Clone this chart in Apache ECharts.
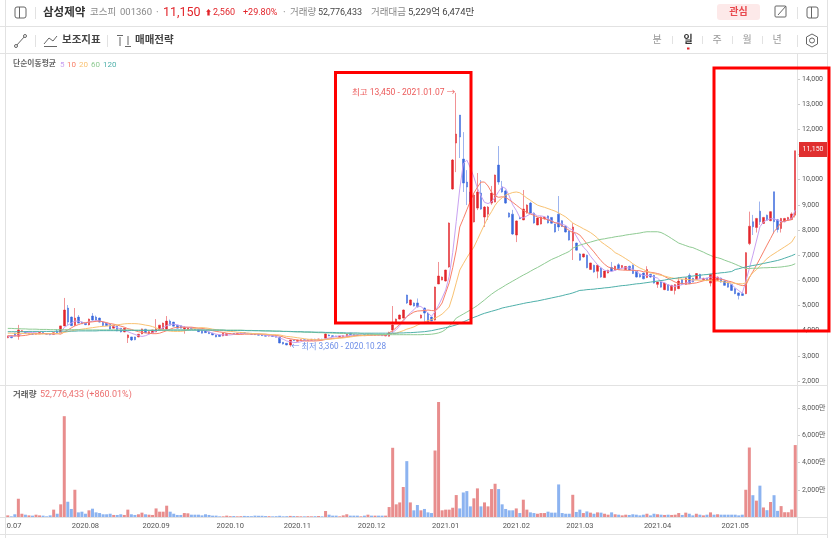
<!DOCTYPE html>
<html>
<head>
<meta charset="utf-8">
<title>삼성제약</title>
<script src="https://cdn.jsdelivr.net/npm/echarts@6/dist/echarts.min.js"></script>
<style>
  html, body { margin: 0; padding: 0; background: #fff; }
  #chart { width: 831px; height: 538px; }
</style>
</head>
<body>
<div id="chart"></div>
<script>
// 거래일 수 (월별)
const months = ['2020.07', '2020.08', '2020.09', '2020.10', '2020.11', '2020.12', '2021.01', '2021.02', '2021.03', '2021.04', '2021.05']
const monthDays = [22, 20, 21, 19, 21, 21, 20, 18, 22, 22, 18]

const priceTicks = { min: 2000, max: 14000, step: 1000 }
const volumeTicks = { min: 0, max: 8000, step: 2000 }

// open, close, low, high
const candles = [
  [3720,3790,3700,3800],[3790,3720,3700,3810],[3910,3790,3780,3920],[3780,4030,3640,4230],[3960,4000,3950,4020],
  [3960,3900,3880,3970],[3870,3890,3860,3900],[3880,3860,3840,3900],[3860,3900,3850,3910],[3880,3930,3870,3950],
  [3930,3880,3860,3940],[3880,3860,3850,3900],[3860,3840,3820,3880],[3850,3920,3840,3930],[3980,3920,3900,4060],
  [3920,4190,3900,4200],[4190,4820,4180,5300],[4900,4340,4230,5020],[4540,4200,4180,4560],[4220,4500,4180,4900],
  [4540,4300,4290,4620],[4340,4270,4260,4360],[4290,4240,4220,4310],[4230,4460,4210,4480],[4580,4420,4400,4700],
  [4540,4420,4400,4600],[4500,4340,4320,4520],[4340,4210,4190,4360],[4300,4200,4190,4310],[4260,4060,4050,4270],
  [4100,4220,4090,4230],[4180,3990,3980,4200],[4100,3950,3930,4110],[3950,4100,3940,4110],[3720,3830,3510,3850],
  [3750,3630,3590,3760],[3750,3640,3620,3760],[3750,3860,3740,3870],[3870,4070,3860,4080],[4060,3920,3900,4070],
  [3880,3960,3870,3980],[3910,4030,3900,4040],[3950,4070,3940,4460],[4020,4220,4010,4230],[4060,4300,4050,4320],
  [4060,4380,4050,4580],[4380,4220,4200,4440],[4340,4180,4170,4350],[4220,4100,4090,4230],[4200,4100,4090,4210],
  [4070,4130,3880,4180],[4040,4110,4030,4120],[4110,4050,4040,4130],[4100,4040,4030,4110],[4060,3960,3950,4070],
  [4020,3900,3890,4030],[4000,3920,3910,4010],[3950,3880,3870,3960],[3900,3830,3820,3910],[3830,3750,3740,3840],
  [3830,3770,3760,3840],[3790,3900,3780,3910],[3810,3880,3800,3890],[3880,3890,3860,3900],[3890,3860,3850,3900],
  [3860,3900,3850,3910],[3880,3920,3870,3930],[3920,3900,3880,3930],[3900,3880,3860,3910],[3880,3860,3850,3890],
  [3870,3840,3830,3880],[3850,3820,3810,3870],[3830,3800,3790,3850],[3810,3780,3770,3830],[3790,3800,3770,3810],
  [3800,3770,3760,3820],[3790,3740,3730,3800],[3750,3510,3500,3760],[3540,3470,3450,3550],[3500,3430,3420,3510],
  [3430,3630,3360,3640],[3620,3600,3590,3640],[3580,3620,3570,3640],[3600,3640,3590,3650],[3640,3610,3600,3660],
  [3600,3640,3590,3650],[3620,3660,3610,3670],[3660,3620,3610,3680],[3630,3670,3620,3680],[3660,3630,3620,3680],
  [3700,3870,3690,3890],[3830,3790,3780,3850],[3800,3770,3760,3820],[3790,3760,3750,3800],[3750,3780,3740,3790],
  [3760,3800,3750,3810],[3780,3860,3770,3880],[3900,3840,3830,3920],[3860,3820,3810,3870],[3840,3800,3790,3860],
  [3800,3830,3790,3840],[3850,3810,3800,3860],[3810,3860,3800,3870],[3860,3820,3810,3880],[3810,3850,3800,3860],
  [3860,3820,3810,3870],[3840,3800,3790,3850],[3790,3830,3780,3840],[3780,3920,3770,3960],[4030,4230,3920,4980],
  [4300,4460,4280,4480],[4460,4620,4440,4640],[4500,4820,4480,4840],[5415,5100,5060,5430],[5020,5220,5000,5240],
  [5100,4980,4960,5120],[5100,4940,4920,5280],[4500,4620,4480,4640],[4900,4700,4300,4920],[4700,4340,4320,4720],
  [4540,4380,4370,4560],[4420,5735,4400,5750],[5854,6172,5850,6730],[6010,6130,6000,6150],[5973,6410,5950,6420],
  [6530,8277,6500,8300],[9630,10780,9600,10820],[11455,11813,10300,13450],[12568,11694,10860,12568],[10820,9866,9510,11890],
  [9906,9707,8990,10380],[9510,9110,8910,9866],[8320,9390,8300,9420],[8870,9510,8790,10264],[9470,8830,8800,9985],
  [8515,8910,8120,8950],[8630,8910,8400,8950],[9070,9470,9000,9750],[9110,10185,9100,10200],[10580,9906,9800,11336],
  [9700,9510,9480,9950],[9550,9070,9040,9600],[8675,8515,8490,8700],[8630,7840,7800,8800],[7800,8360,7520,8380],
  [8500,8450,8430,8520],[8400,8833,8390,9590],[8675,8990,8650,9020],[9070,8675,8650,9120],[8675,8277,8250,8700],
  [8200,8475,8190,8500],[8237,8515,8220,8540],[8440,8510,8420,8530],[8560,8280,8260,8580],[8500,8270,8250,8510],
  [8237,7920,7900,8250],[8630,8120,7960,9350],[8370,8140,8120,8390],[8150,7920,7900,8170],[7960,7600,7580,7980],
  [7560,8120,6807,8270],[7480,7200,7180,7500],[7050,6800,6780,7080],[6930,7050,6900,7060],[7000,6500,6480,7020],
  [6430,6690,6420,6700],[6600,6330,6300,6620],[6360,6600,6080,6620],[6490,6130,6100,6500],[6110,6370,6100,6380],
  [6290,6400,6280,6420],[6510,6370,6340,6730],[6400,6560,6390,6580],[6620,6430,6410,6680],[6510,6590,6490,6600],
  [6430,6550,6410,6560],[6560,6410,6390,6580],[6600,6270,6250,6630],[6360,6130,6110,6380],[6230,6130,6110,6250],
  [6290,6060,6040,6310],[6110,6430,6090,6560],[6240,6130,6100,6260],[6200,5890,5870,6220],[5840,5930,5700,5950],
  [5930,5730,5710,5950],[5630,5890,5610,5900],[5830,5600,5580,5850],[5600,5800,5580,5820],[5600,5830,5440,5850],
  [5670,5970,5650,6130],[6030,5840,5820,6050],[5840,6100,5820,6120],[6200,5870,5850,6280],[6080,5940,5920,6100],
  [6030,6270,6010,6290],[6240,6070,6050,6260],[6000,6080,5980,6100],[6080,5990,5970,6100],[5890,6240,5760,6260],
  [6080,6000,5980,6100],[6000,6130,5980,6150],[6090,5930,5910,6110],[5970,5800,5780,5990],[5930,5730,5710,5950],
  [5830,5600,5580,5850],[5670,5470,5450,5690],[5500,5400,5240,5520],[5470,5400,5380,5490],[5470,7100,5450,7120],
  [7460,8150,7400,8730],[8330,8130,7800,8600],[8100,8460,7900,8480],[8750,8330,8200,9130],[8260,8500,8240,8520],
  [8590,8390,8370,8610],[8370,8730,8350,8750],[9520,8330,7860,9520],[8410,8020,7900,8440],[8060,8460,7900,8480],
  [8330,8460,8310,8480],[8390,8500,8370,8520],[8420,8640,8400,8700],[8590,11150,8500,11150]
]

// 거래량 (만)
const volumes = [
  120,50,200,1340,240,170,120,100,170,120,
  100,50,120,540,240,930,7400,1120,590,2000,
  340,390,240,490,610,340,290,200,200,240,
  150,150,200,150,540,200,150,200,320,200,
  170,150,630,390,390,830,390,240,150,150,
  290,270,170,170,170,120,200,150,100,100,
  50,50,100,60,70,50,60,80,70,60,
  100,90,90,70,60,50,60,90,50,60,
  80,70,60,50,50,60,50,60,70,50,
  440,170,100,100,50,120,200,100,100,100,
  50,100,170,100,100,100,100,100,730,5080,
  930,1070,2200,4100,1070,490,880,490,590,340,
  290,4880,8440,490,540,540,680,1610,630,1800,
  1900,780,1370,2100,780,1070,780,2050,2440,2050,
  930,590,490,490,630,290,1270,540,340,290,
  240,290,290,390,320,320,2390,290,240,240,
  1630,370,540,290,410,320,240,340,320,240,
  170,340,200,170,120,170,150,200,170,120,
  170,240,120,240,200,170,150,170,150,170,
  290,150,320,240,120,240,170,120,170,340,
  170,200,170,170,170,170,170,120,170,2000,
  5100,1600,1200,2300,700,500,1100,1600,450,800,
  350,350,550,5280
]

const ma5 = [
  3760,3770,3790,3820,3880,3920,3930,3930,3910,3890,
  3890,3880,3870,3870,3880,3930,4130,4220,4300,4380,
  4380,4340,4300,4350,4370,4400,4390,4350,4300,4220,
  4180,4120,4060,4010,3960,3900,3850,3800,3770,3800,
  3860,3920,3990,4050,4120,4200,4250,4260,4230,4190,
  4150,4130,4100,4080,4060,4030,4000,3950,3900,3860,
  3840,3830,3830,3830,3850,3870,3890,3890,3890,3890,
  3880,3860,3840,3820,3800,3790,3770,3710,3660,3590,
  3560,3530,3530,3560,3610,3620,3630,3630,3640,3640,
  3680,3710,3740,3770,3800,3780,3790,3810,3830,3840,
  3830,3820,3820,3830,3830,3830,3830,3830,3840,3930,
  4040,4200,4370,4560,4710,4830,4980,4960,4840,4700,
  4570,4760,5010,5300,5620,6160,7100,8340,9640,10640,
  10780,10470,10100,9660,9360,9100,9050,9120,9300,9530,
  9720,9650,9350,9000,8780,8500,8480,8560,8640,8650,
  8560,8560,8530,8440,8380,8280,8300,8230,8180,8060,
  8000,7760,7520,7320,7180,6960,6790,6620,6500,6400,
  6370,6350,6400,6450,6480,6500,6490,6430,6350,6260,
  6190,6200,6190,6130,6090,5950,5900,5820,5780,5760,
  5800,5830,5890,5930,5990,6040,6060,6060,6090,6130,
  6120,6110,6060,6020,5930,5840,5700,5590,5490,5960,
  6470,7000,7560,8130,8320,8400,8450,8440,8390,8330,
  8330,8400,8460,8800
]

const ma10 = [
  3800,3800,3790,3790,3800,3810,3840,3870,3880,3870,
  3890,3880,3880,3880,3880,3860,3950,4030,4110,4190,
  4240,4290,4320,4340,4350,4370,4380,4350,4320,4280,
  4260,4220,4180,4140,4080,4050,4000,3960,3930,3910,
  3900,3880,3880,3900,3950,4000,4060,4110,4130,4140,
  4130,4140,4140,4120,4100,4090,4070,4040,4000,3970,
  3950,3930,3900,3880,3870,3850,3850,3860,3860,3860,
  3860,3870,3860,3860,3840,3830,3810,3790,3750,3700,
  3680,3650,3630,3610,3590,3590,3590,3590,3600,3620,
  3650,3670,3690,3700,3720,3730,3750,3770,3790,3810,
  3810,3800,3810,3820,3830,3830,3830,3820,3920,4000,
  4120,4260,4420,4560,4650,4740,4780,4790,4800,4820,
  4800,4790,4900,5100,5500,5900,6500,7200,8120,8450,
  8800,9150,9470,9700,9906,9906,9750,9500,9350,9300,
  9320,9300,9200,9100,8990,8880,8780,8700,8640,8580,
  8515,8480,8450,8400,8350,8290,8250,8170,8080,7980,
  7900,7880,7800,7630,7450,7290,7130,6950,6780,6640,
  6530,6490,6450,6420,6410,6400,6400,6400,6390,6380,
  6340,6340,6320,6300,6270,6230,6150,6080,6000,5930,
  5880,5880,5850,5860,5880,5900,5940,5980,6010,6020,
  6040,6050,6040,6010,5970,5940,5880,5830,5790,5800,
  6100,6350,6600,6860,7130,7400,7660,7930,8100,8300,
  8370,8380,8410,8650
]

const ma20 = [
  3900,3900,3890,3890,3890,3880,3880,3880,3870,3870,
  3870,3870,3880,3880,3880,3900,3930,3960,3990,4020,
  4040,4060,4080,4100,4120,4140,4160,4170,4180,4200,
  4220,4230,4250,4270,4280,4280,4280,4270,4250,4220,
  4200,4160,4110,4060,4030,4000,3980,3970,3970,3970,
  3990,4030,4060,4090,4110,4120,4110,4090,4060,4040,
  4020,4000,3980,3970,3960,3940,3930,3920,3900,3890,
  3880,3880,3870,3860,3850,3840,3840,3830,3800,3770,
  3760,3740,3720,3700,3680,3660,3650,3640,3640,3640,
  3650,3660,3670,3690,3700,3710,3730,3750,3770,3790,
  3800,3810,3820,3830,3830,3830,3840,3850,3860,3880,
  3900,3950,4000,4060,4100,4150,4220,4290,4340,4400,
  4440,4500,4570,4660,4790,4940,5380,5900,6410,6660,
  6900,7120,7320,7620,7920,8220,8510,8730,8980,9160,
  9280,9390,9440,9490,9510,9480,9380,9270,9180,9080,
  8990,8940,8900,8850,8800,8750,8680,8600,8520,8400,
  8280,8200,8130,8050,7980,7900,7800,7680,7530,7430,
  7330,7230,7100,7030,6950,6860,6770,6660,6570,6490,
  6430,6360,6300,6270,6230,6200,6170,6130,6100,6070,
  6060,6050,6040,6030,6020,6010,6000,6000,6000,5990,
  5980,5970,5960,5930,5910,5900,5880,5870,5860,5900,
  6130,6310,6420,6570,6720,6860,6970,7060,7150,7240,
  7330,7420,7520,7750
]

const ma60 = [
  4090,4090,4080,4080,4070,4070,4060,4060,4060,4050,
  4050,4050,4040,4040,4040,4040,4040,4040,4040,4040,
  4040,4030,4030,4030,4030,4030,4030,4030,4030,4030,
  4030,4030,4030,4030,4030,4020,4020,4020,4020,4020,
  4020,4020,4020,4020,4020,4020,4030,4030,4030,4030,
  4030,4030,4030,4030,4030,4030,4030,4030,4030,4030,
  4030,4030,4020,4020,4020,4020,4020,4010,4010,4010,
  4000,4000,4000,3990,3990,3990,3980,3980,3970,3970,
  3960,3960,3950,3950,3940,3940,3930,3930,3920,3920,
  3910,3910,3900,3900,3890,3890,3880,3880,3870,3870,
  3870,3860,3860,3860,3850,3850,3850,3850,3840,3840,
  3840,3840,3840,3840,3840,3840,3840,3840,3850,3850,
  3860,3880,3910,3960,4050,4180,4320,4500,4580,4660,
  4740,4820,4910,5000,5110,5220,5340,5450,5550,5640,
  5720,5810,5890,5970,6050,6130,6210,6280,6360,6440,
  6510,6590,6670,6750,6830,6890,6950,7020,7080,7150,
  7280,7340,7400,7440,7480,7520,7560,7600,7630,7650,
  7680,7700,7730,7750,7770,7800,7820,7840,7860,7880,
  7910,7930,7930,7930,7930,7900,7830,7750,7660,7570,
  7480,7430,7380,7330,7300,7240,7180,7120,7050,6990,
  6930,6900,6860,6800,6750,6700,6640,6580,6520,6470,
  6470,6480,6480,6490,6500,6500,6510,6510,6520,6530,
  6550,6570,6600,6660
]

const ma120 = [
  3960,3960,3960,3960,3960,3960,3970,3970,3970,3970,
  3970,3970,3970,3970,3980,3980,3980,3980,3980,3980,
  3990,3990,3990,3990,3990,3990,4000,4000,4000,4000,
  4000,4000,4000,4000,4010,4010,4010,4010,4010,4010,
  4010,4010,4010,4020,4020,4020,4020,4020,4020,4020,
  4020,4020,4020,4020,4020,4020,4020,4020,4020,4020,
  4020,4020,4010,4010,4010,4010,4010,4010,4000,4000,
  4000,4000,3990,3990,3990,3980,3980,3980,3970,3970,
  3970,3960,3960,3960,3950,3950,3950,3940,3940,3940,
  3930,3930,3930,3920,3920,3920,3910,3910,3910,3910,
  3900,3900,3900,3900,3900,3900,3900,3900,3900,3900,
  3900,3910,3910,3920,3920,3930,3940,3950,3960,3980,
  4000,4030,4060,4090,4120,4150,4190,4230,4290,4350,
  4410,4470,4530,4580,4640,4690,4730,4770,4810,4850,
  4900,4930,4960,4990,5020,5050,5080,5110,5130,5160,
  5180,5210,5240,5270,5300,5330,5360,5390,5430,5460,
  5500,5550,5600,5610,5630,5640,5650,5670,5680,5700,
  5710,5730,5750,5770,5790,5800,5820,5840,5860,5870,
  5890,5910,5930,5950,5970,5990,6010,6040,6060,6080,
  6100,6120,6130,6150,6170,6190,6200,6220,6230,6250,
  6270,6280,6300,6310,6330,6350,6430,6460,6500,6530,
  6560,6590,6610,6640,6670,6700,6730,6760,6790,6830,
  6880,6930,6980,7040
]

const maNames = ['5', '10', '20', '60', '120']
const maColors = ['#c9a2f2', '#f8806a', '#f9c272', '#8fcb93', '#4fb0aa']

const FONT = 'Roboto, "Noto Sans CJK KR", sans-serif'
const RED = '#e2252b'
const BLUE = '#3a69dc'

// 날짜축 만들기
const categories = []
const monthStarts = []
months.forEach((m, k) => {
  monthStarts.push(categories.length)
  for (let d = 1; d <= monthDays[k]; d++) categories.push(m + '.' + d)
})

const chart = echarts.init(document.getElementById('chart'))

// 화면 글자
const text = (s, x, y, size, color, weight, align) => ({
  type: 'text',
  z: 20,
  style: { text: s, x, y, fill: color, font: (weight || 'normal') + ' ' + size + 'px ' + FONT, align: align || 'left', verticalAlign: 'middle' }
})
const line = (x1, y1, x2, y2, color, width) => ({
  type: 'line',
  z: 10,
  shape: { x1, y1, x2, y2 },
  style: { stroke: color || '#e2e2e2', lineWidth: width || 1 }
})
const box = (x, y, width, height, stroke, lineWidth, r) => ({
  type: 'rect',
  z: 10,
  shape: { x, y, width, height, r: r || 0 },
  style: { stroke, lineWidth: lineWidth || 1, fill: 'none' }
})
const panelIcon = (x, y) => [box(x, y, 11, 11, '#666', 1, 2), line(x + 4.5, y, x + 4.5, y + 11, '#666')]

const graphicItems = [
  // 왼쪽으로 넘친 날짜 가리기
  { type: 'rect', z: 9, shape: { x: 0, y: 518, width: 6.5, height: 16 }, style: { fill: '#fff' } },
  // 테두리
  line(5.5, 0, 5.5, 538), line(827.5, 0, 827.5, 538),
  line(0, 26.5, 828, 26.5), line(0, 53.5, 828, 53.5),
  line(0, 385.5, 828, 385.5), line(0, 517.5, 828, 517.5), line(0, 534.5, 828, 534.5),
  line(797.5, 54, 797.5, 535),
  // 1행
  ...panelIcon(15, 7), line(35.5, 7, 35.5, 19),
  text('삼성제약', 43, 13, 11.5, '#333', 'bold'),
  text('코스피', 90, 13, 9.5, '#888'),
  text('001360', 120, 13, 9.5, '#888'),
  text('·', 156, 13, 10, '#888'),
  text('11,150', 163, 12.5, 12.5, RED, 'normal'),
  text('⬆', 205, 13, 7, RED),
  text('2,560', 213, 13, 9, RED),
  text('+29.80%', 243, 13, 9, RED),
  text('·', 283, 13, 10, '#888'),
  text('거래량', 290, 13, 9.5, '#888'),
  text('52,776,433', 318, 13, 9, '#444'),
  text('거래대금', 371, 13, 9.5, '#888'),
  text('5,229억 6,474만', 408, 13, 9.5, '#444'),
  { type: 'rect', z: 10, shape: { x: 717, y: 4, width: 43, height: 16, r: 3 }, style: { fill: '#fde9e9' } },
  text('관심', 738.5, 12.5, 10, '#e8474c', 'bold', 'center'),
  box(775, 6, 11, 11, '#666', 1, 1), line(778, 15, 786, 6, '#666'),
  line(797.5, 7, 797.5, 19),
  ...panelIcon(807, 7),
  // 2행
  line(16, 46, 25, 36, '#666'),
  { type: 'circle', z: 10, shape: { cx: 16, cy: 46, r: 1.5 }, style: { stroke: '#666', fill: '#fff' } },
  { type: 'circle', z: 10, shape: { cx: 25, cy: 36, r: 1.5 }, style: { stroke: '#666', fill: '#fff' } },
  line(35.5, 35, 35.5, 47),
  { type: 'polyline', z: 10, shape: { points: [[44, 44], [49, 38], [53, 41], [57, 36]] }, style: { stroke: '#666', fill: 'none' } },
  line(44, 46.5, 57, 46.5, '#666'),
  text('보조지표', 62, 40.5, 10.5, '#444', 'bold'),
  line(107.5, 35, 107.5, 47),
  line(117, 35.5, 123, 35.5, '#666'), line(120, 37, 120, 46, '#666'),
  line(125, 46.5, 131, 46.5, '#666'), line(128, 36, 128, 45, '#666'),
  text('매매전략', 135, 40.5, 10.5, '#444', 'bold'),
  text('분', 657, 40.5, 10, '#999', 'normal', 'center'), line(672.5, 36, 672.5, 44),
  text('일', 688, 40.5, 10, '#333', 'bold', 'center'), line(702.5, 36, 702.5, 44),
  text('주', 717, 40.5, 10, '#999', 'normal', 'center'), line(732.5, 36, 732.5, 44),
  text('월', 747, 40.5, 10, '#999', 'normal', 'center'), line(762.5, 36, 762.5, 44),
  text('년', 777, 40.5, 10, '#999', 'normal', 'center'), line(797.5, 35, 797.5, 47),
  { type: 'rect', z: 10, shape: { x: 687, y: 47.5, width: 2.5, height: 2 }, style: { fill: RED } },
  { type: 'polygon', z: 10, shape: { points: [[812, 34], [817.5, 37], [817.5, 44], [812, 47], [806.5, 44], [806.5, 37]] }, style: { stroke: '#666', fill: 'none' } },
  { type: 'circle', z: 10, shape: { cx: 812, cy: 40.5, r: 2.5 }, style: { stroke: '#666', fill: 'none' } },
  // 범례
  text('단순이동평균', 13, 64.5, 7.8, '#666', 'bold'),
  text(maNames[0], 60, 64.5, 8, maColors[0]),
  text(maNames[1], 67, 64.5, 8, maColors[1]),
  text(maNames[2], 79, 64.5, 8, maColors[2]),
  text(maNames[3], 91, 64.5, 8, maColors[3]),
  text(maNames[4], 103, 64.5, 8, maColors[4]),
  text('거래량', 13, 395, 8.5, '#666', 'bold'),
  text('52,776,433 (+860.01%)', 40, 395, 9, '#ec7070'),
  // 현재가
  { type: 'rect', z: 30, shape: { x: 799, y: 142, width: 28, height: 15 }, style: { fill: '#e02f2f' } },
  { ...text('11,150', 813, 149.5, 7, '#fff', 'normal', 'center'), z: 31 },
  // 빨간 박스
  { ...box(335.5, 72.5, 135.5, 250.5, '#ff0000', 3), z: 40 },
  { ...box(714, 68, 115, 263, '#ff0000', 3), z: 40 }
]

const maSeries = [ma5, ma10, ma20, ma60, ma120].map((d, i) => ({
  name: maNames[i],
  type: 'line',
  data: d,
  xAxisIndex: 0,
  yAxisIndex: 0,
  showSymbol: false,
  silent: true,
  z: 5,
  lineStyle: { width: 1, color: maColors[i] }
}))

chart.setOption({
  animation: false,
  backgroundColor: '#fff',
  textStyle: { fontFamily: FONT },
  graphic: graphicItems,
  grid: [
    { left: 6, top: 79, width: 791, height: 302, outerBoundsMode: 'none' },
    { left: 6, top: 408, width: 791, height: 109, outerBoundsMode: 'none' }
  ],
  xAxis: [
    {
      type: 'category', gridIndex: 0, data: categories, boundaryGap: true,
      axisLine: { show: false }, axisTick: { show: false }, axisLabel: { show: false }, splitLine: { show: false }
    },
    {
      type: 'category', gridIndex: 1, data: categories, boundaryGap: true,
      axisLine: { show: false },
      axisTick: { length: 3, alignWithLabel: true, interval: (i) => monthStarts.includes(i), lineStyle: { color: '#bbb' } },
      axisLabel: {
        interval: (i) => monthStarts.includes(i),
        formatter: (v) => v.slice(0, 7),
        fontSize: 7.5, color: '#555', margin: 5
      },
      splitLine: { show: false }
    }
  ],
  yAxis: [
    {
      type: 'value', gridIndex: 0, position: 'right', ...priceTicks, interval: priceTicks.step,
      axisLine: { show: false },
      axisTick: { show: true, length: 3, lineStyle: { color: '#ccc' } },
      axisLabel: {
        fontSize: 7, color: '#555', margin: 5,
        formatter: (v) => v.toLocaleString('en-US')
      },
      splitLine: { show: false }
    },
    {
      type: 'value', gridIndex: 1, position: 'right', ...volumeTicks, interval: volumeTicks.step,
      axisLine: { show: false },
      axisTick: { show: true, length: 3, lineStyle: { color: '#ccc' } },
      axisLabel: {
        fontSize: 7, color: '#555', margin: 5,
        formatter: (v) => (v === 0 ? '' : v.toLocaleString('en-US') + '만')
      },
      splitLine: { show: false }
    }
  ],
  series: [
    {
      name: '가격',
      type: 'candlestick',
      data: candles,
      xAxisIndex: 0,
      yAxisIndex: 0,
      barWidth: 2,
      z: 3,
      itemStyle: { color: RED, color0: BLUE, borderColor: RED, borderColor0: BLUE, borderWidth: 0.5 },
      markPoint: {
        symbol: 'circle',
        symbolSize: 0,
        silent: true,
        data: [
          {
            coord: [127, 13450],
            label: { show: true, position: 'left', distance: 1, formatter: '최고 13,450 - 2021.01.07 →', fontSize: 8.5, color: '#ec5a5a', fontFamily: FONT }
          },
          {
            coord: [80, 3360],
            label: { show: true, position: 'right', distance: 1, formatter: '← 최저 3,360 - 2020.10.28', fontSize: 8.2, color: '#6f8fe8', fontFamily: FONT }
          }
        ]
      }
    },
    ...maSeries,
    {
      name: '거래량',
      type: 'bar',
      xAxisIndex: 1,
      yAxisIndex: 1,
      barWidth: 3,
      clip: false,
      data: volumes.map((v, i) => ({
        value: v,
        itemStyle: { color: candles[i][1] >= candles[i][0] ? '#e88d8d' : '#8cb3f0' }
      }))
    }
  ]
})
</script>
</body>
</html>
